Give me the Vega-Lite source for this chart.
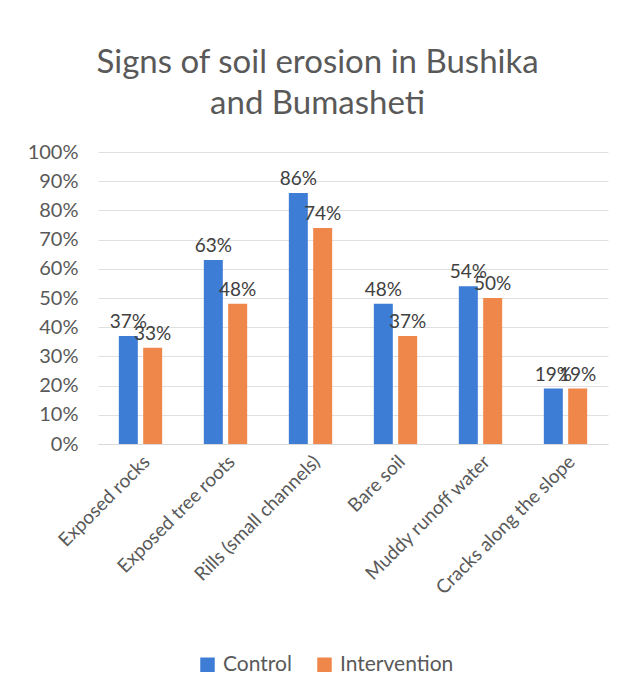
{
  "$schema": "https://vega.github.io/schema/vega-lite/v6.json",
  "autosize": "none",
  "width": 510,
  "height": 292,
  "padding": {"left": 98, "top": 152, "right": 23, "bottom": 253},
  "background": "white",
  "config": {"view": {"stroke": null}},
  "title": {
    "text": ["Signs of soil erosion in Bushika", "and Bumasheti"],
    "font": "Lato",
    "fontSize": 33,
    "fontWeight": "normal",
    "color": "#595959",
    "anchor": "middle",
    "frame": "bounds",
    "lineHeight": 41,
    "offset": 21
  },
  "data": {
    "values": [
      {"sign": "Exposed rocks", "group": "Control", "value": 0.37},
      {"sign": "Exposed rocks", "group": "Intervention", "value": 0.33},
      {"sign": "Exposed tree roots", "group": "Control", "value": 0.63},
      {"sign": "Exposed tree roots", "group": "Intervention", "value": 0.48},
      {"sign": "Rills (small channels)", "group": "Control", "value": 0.86},
      {"sign": "Rills (small channels)", "group": "Intervention", "value": 0.74},
      {"sign": "Bare soil", "group": "Control", "value": 0.48},
      {"sign": "Bare soil", "group": "Intervention", "value": 0.37},
      {"sign": "Muddy runoff water", "group": "Control", "value": 0.54},
      {"sign": "Muddy runoff water", "group": "Intervention", "value": 0.50},
      {"sign": "Cracks along the slope", "group": "Control", "value": 0.19},
      {"sign": "Cracks along the slope", "group": "Intervention", "value": 0.19}
    ]
  },
  "encoding": {
    "x": {
      "field": "sign",
      "type": "nominal",
      "sort": null,
      "title": null,
      "scale": {"paddingInner": 0.49, "paddingOuter": 0.245},
      "axis": {
        "labelAngle": -45,
        "labelFont": "Lato",
        "labelFontSize": 19,
        "labelColor": "#595959",
        "labelPadding": 8,
        "labelLimit": 0,
        "ticks": false,
        "domainColor": "#d9d9d9",
        "grid": false
      }
    },
    "xOffset": {"field": "group", "type": "nominal", "scale": {"paddingInner": 0.22}},
    "y": {
      "field": "value",
      "type": "quantitative",
      "title": null,
      "scale": {"domain": [0, 1]},
      "axis": {
        "format": ".0%",
        "values": [0, 0.1, 0.2, 0.3, 0.4, 0.5, 0.6, 0.7, 0.8, 0.9, 1],
        "labelOverlap": false,
        "labelFont": "Lato",
        "labelFontSize": 20,
        "labelColor": "#595959",
        "labelPadding": 20,
        "domain": false,
        "ticks": false,
        "gridColor": "#e0e0e0"
      }
    },
    "color": {
      "field": "group",
      "type": "nominal",
      "title": null,
      "scale": {"domain": ["Control", "Intervention"], "range": ["#3e7dd6", "#f0874a"]},
      "legend": {
        "orient": "none",
        "legendX": 99,
        "legendY": 502,
        "direction": "horizontal",
        "labelFont": "Lato",
        "labelFontSize": 21,
        "labelColor": "#595959",
        "symbolType": "square",
        "symbolSize": 210,
        "symbolStrokeWidth": 0,
        "labelOffset": 5,
        "columnPadding": 22
      }
    }
  },
  "layer": [
    {"mark": {"type": "bar"}},
    {
      "mark": {"type": "text", "dy": -14, "font": "Lato", "fontSize": 19, "color": "#404040"},
      "encoding": {
        "text": {"field": "value", "type": "quantitative", "format": ".0%"},
        "color": {"value": "#404040"}
      }
    }
  ]
}
